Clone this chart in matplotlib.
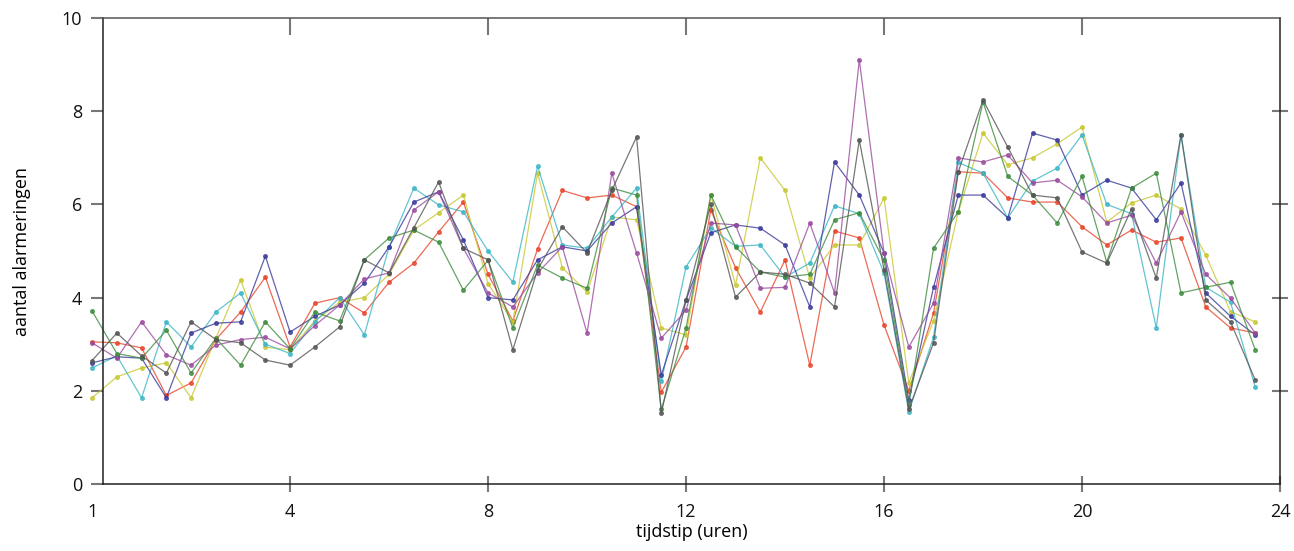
import numpy as np
import matplotlib
matplotlib.use("Agg")
import matplotlib.pyplot as plt
import matplotlib.transforms as mtransforms

plt.rcParams['font.family'] = ['Open Sans', 'DejaVu Sans']

# half-hour measurements, 48 per series
hours = np.arange(48) * 0.5

red = [3.05, 3.03, 2.92, 1.90, 2.17, 3.10, 3.69, 4.44, 2.94, 3.88, 4.00, 3.67,
       4.33, 4.74, 5.41, 6.05, 4.50, 3.50, 5.04, 6.30, 6.14, 6.20, 5.95, 1.97,
       2.94, 5.88, 4.64, 3.69, 4.81, 2.55, 5.43, 5.28, 3.41, 2.00, 3.67, 6.70,
       6.67, 6.14, 6.05, 6.05, 5.52, 5.13, 5.45, 5.19, 5.28, 3.80, 3.35, 3.24]
yellow = [1.85, 2.30, 2.49, 2.60, 1.85, 3.13, 4.38, 2.94, 2.88, 3.50, 3.90, 4.00,
          4.50, 5.45, 5.82, 6.20, 4.30, 3.48, 6.67, 4.64, 4.12, 5.73, 5.67, 3.35,
          3.20, 6.20, 4.27, 7.00, 6.30, 4.42, 5.13, 5.13, 6.14, 2.17, 3.50, 5.84,
          7.53, 6.85, 7.00, 7.30, 7.66, 5.62, 6.03, 6.20, 5.90, 4.91, 3.70, 3.48]
cyan = [2.49, 2.75, 1.85, 3.48, 2.94, 3.69, 4.10, 3.00, 2.80, 3.48, 4.00, 3.20,
        5.09, 6.35, 5.99, 5.84, 5.00, 4.33, 6.82, 5.13, 5.06, 5.73, 6.35, 2.20,
        4.66, 5.50, 5.10, 5.13, 4.44, 4.74, 5.97, 5.80, 4.53, 1.55, 3.15, 6.90,
        6.67, 5.71, 6.50, 6.78, 7.49, 6.00, 5.80, 3.35, 7.50, 4.22, 3.90, 2.08]
blue = [2.60, 2.73, 2.70, 1.85, 3.24, 3.45, 3.48, 4.89, 3.26, 3.60, 3.84, 4.31,
        5.09, 6.05, 6.27, 5.24, 4.00, 3.95, 4.81, 5.09, 5.00, 5.60, 5.95, 2.34,
        3.95, 5.39, 5.56, 5.49, 5.13, 3.80, 6.91, 6.20, 4.96, 1.80, 4.22, 6.20,
        6.20, 5.71, 7.53, 7.38, 6.20, 6.52, 6.35, 5.67, 6.46, 4.10, 3.60, 3.20]
purple = [3.03, 2.70, 3.48, 2.77, 2.55, 2.98, 3.10, 3.15, 2.90, 3.40, 3.84, 4.40,
          4.53, 5.88, 6.27, 5.06, 4.10, 3.80, 4.53, 5.09, 3.24, 6.67, 4.96, 3.13,
          3.73, 5.60, 5.56, 4.20, 4.22, 5.60, 4.10, 9.10, 4.96, 2.94, 3.88, 7.00,
          6.91, 7.06, 6.46, 6.52, 6.16, 5.60, 5.77, 4.74, 5.84, 4.50, 3.99, 3.24]
green = [3.71, 2.80, 2.70, 3.30, 2.38, 3.13, 2.55, 3.48, 2.90, 3.69, 3.50, 4.81,
         5.28, 5.45, 5.19, 4.16, 4.80, 3.35, 4.70, 4.42, 4.20, 6.35, 6.20, 1.60,
         3.35, 6.20, 5.09, 4.55, 4.44, 4.50, 5.67, 5.82, 4.80, 1.70, 5.06, 5.84,
         8.20, 6.60, 6.20, 5.60, 6.60, 4.76, 6.35, 6.67, 4.10, 4.22, 4.33, 2.88]
darkgray = [2.65, 3.24, 2.75, 2.38, 3.48, 3.10, 3.03, 2.66, 2.55, 2.94, 3.37, 4.81,
            4.53, 5.50, 6.48, 5.06, 4.81, 2.88, 4.60, 5.52, 4.96, 6.30, 7.45, 1.52,
            3.95, 6.00, 4.01, 4.55, 4.50, 4.31, 3.80, 7.38, 4.60, 1.60, 3.03, 6.70,
            8.24, 7.23, 6.20, 6.14, 4.98, 4.74, 5.90, 4.42, 7.50, 3.95, 3.48, 2.23]

series = [red, yellow, cyan, blue, purple, green, darkgray]
colors = ['#e8452c', '#c8c832', '#3cb6c6', '#3a3a9c', '#9a4c9e', '#3f8c3f', '#555555']

xtick_pos = [4, 8, 12, 16, 20, 24]
xtick_lab = ['4', '8', '12', '16', '20', '24']
ytick_pos = [0, 2, 4, 6, 8, 10]
ytick_lab = ['0', '2', '4', '6', '8', '10']

fig = plt.figure(figsize=(12.94, 5.51), dpi=100)
ax = fig.add_axes([103/1294, 1 - 484/551, 1177/1294, 466/551])

for vals, c in zip(series, colors):
    ax.plot(hours, vals, color=c, lw=0.9, marker='o', ms=2.6, clip_on=False, alpha=0.8)

ax.set_xlim(0.22, 24)
ax.set_ylim(0, 10)
ax.set_xticks(xtick_pos)
ax.set_xticklabels(xtick_lab)
ax.set_yticks(ytick_pos)
ax.set_yticklabels(ytick_lab)

ax.tick_params(axis='x', direction='inout', length=12, width=1.5,
               color='#777777', labelsize=13, pad=8, labelcolor='#111111')
ax.tick_params(axis='y', direction='out', length=9, width=1.5,
               color='#777777', labelsize=13, pad=6, labelcolor='#111111')

# inward ticks along the top edge, crossing ticks on the right
top = ax.secondary_xaxis('top')
top.set_xticks(xtick_pos[:-1])
top.tick_params(direction='in', length=12, width=1.5, color='#777777', labeltop=False)
right = ax.secondary_yaxis('right')
right.set_yticks(ytick_pos[1:-1])
right.tick_params(direction='inout', length=12, width=1.5, color='#777777', labelright=False)
top.spines['top'].set_visible(False)
right.spines['right'].set_visible(False)

# first hour label sits left of the frame
trans = mtransforms.blended_transform_factory(ax.transData, ax.transAxes)
ax.text(0, -0.04, '1', transform=trans, ha='center', va='top', fontsize=13, color='#111111')

ax.set_xlabel('tijdstip (uren)', fontsize=13, labelpad=1)
ax.set_ylabel('aantal alarmeringen', fontsize=13, labelpad=22)

for s in ax.spines.values():
    s.set_linewidth(1.1)
    s.set_color('#222222')
ax.spines['top'].set_color('#555555')

fig.savefig('out.png', dpi=100)
